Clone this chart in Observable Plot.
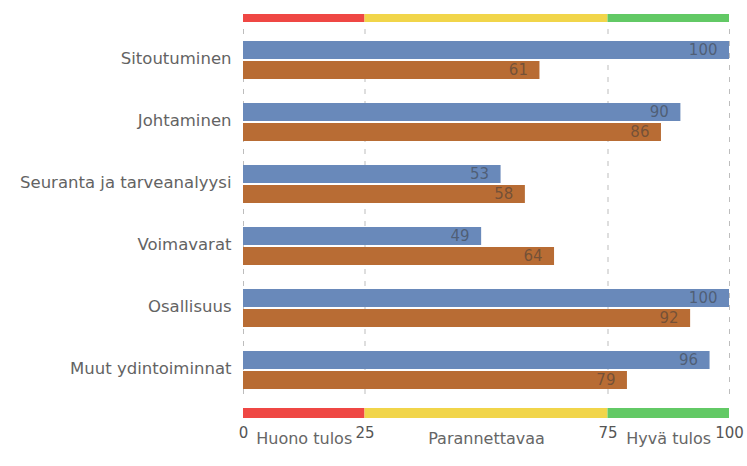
<!DOCTYPE html>
<html>
<head>
<meta charset="utf-8">
<script src="https://cdn.jsdelivr.net/npm/d3@7"></script>
<script src="https://cdn.jsdelivr.net/npm/@observablehq/plot@0.6"></script>
<style>
  html, body { margin: 0; padding: 0; background: #fff; }
  #chart { width: 747px; display: flex; flex-direction: column; }
  #chart svg { display: block; }
</style>
</head>
<body>
<div id="chart"></div>
<script>
// Data
const categories = ["Sitoutuminen", "Johtaminen", "Seuranta ja tarveanalyysi", "Voimavarat", "Osallisuus", "Muut ydintoiminnat"];
const seriesA = [100, 90, 53, 49, 100, 96];   // blue
const seriesB = [61, 86, 58, 64, 92, 79];     // orange
const zoneStarts = [0, 25, 75];
const zoneEnds = [25, 75, 100];
const zoneLabels = ["Huono tulos", "Parannettavaa", "Hyvä tulos"];
const zoneColors = ["#ef4744", "#f1d54a", "#62c965"];
const tickValues = [0, 25, 75, 100];

const blue = "#6989ba";
const orange = "#b86c34";
const font = "DejaVu Sans, sans-serif";

const rowsA = categories.map((c, i) => ({category: c, value: seriesA[i]}));
const rowsB = categories.map((c, i) => ({category: c, value: seriesB[i]}));
const zones = zoneStarts.map((s, i) => ({x1: s, x2: zoneEnds[i], label: zoneLabels[i], color: zoneColors[i]}));

const W = 747, ML = 243, MR = 18;
const xOpts = {domain: [0, 100], range: [ML, W - MR]};

// Top colour band
const topBand = Plot.plot({
  width: W, height: 22, marginTop: 14, marginBottom: 0, marginLeft: ML, marginRight: MR,
  x: {...xOpts, axis: null},
  y: {axis: null},
  marks: [
    Plot.barX(zones, {x1: "x1", x2: "x2", fill: "color"})
  ]
});

// Main bars
const mainChart = Plot.plot({
  width: W, height: 386, marginTop: 7, marginBottom: 7, marginLeft: ML, marginRight: MR,
  style: {fontFamily: font, background: "transparent"},
  x: {...xOpts, axis: null},
  y: {domain: categories, paddingInner: 0.39, paddingOuter: 0.195, label: null},
  marks: [
    Plot.ruleX(tickValues, {stroke: "#bdbdbd", strokeDasharray: "5,7", strokeWidth: 1}),
    Plot.barX(rowsA, {x: "value", y: "category", fill: blue, insetBottom: 20}),
    Plot.barX(rowsB, {x: "value", y: "category", fill: orange, insetTop: 20}),
    Plot.text(rowsA, {x: "value", y: "category", text: d => String(d.value), dy: -10, dx: -12, textAnchor: "end", fill: "#3a3a3a", fillOpacity: 0.55, fontSize: 15, letterSpacing: "0.5px"}),
    Plot.text(rowsB, {x: "value", y: "category", text: d => String(d.value), dy: 10, dx: -12, textAnchor: "end", fill: "#3a3a3a", fillOpacity: 0.55, fontSize: 15, letterSpacing: "0.5px"}),
    Plot.axisY({tickSize: 0, tickPadding: 12, fontSize: 16.5, fill: "#636363", label: null, letterSpacing: "0.5px", dy: -1.5})
  ]
});

// Bottom colour band + axis + zone labels
const bottomBand = Plot.plot({
  width: W, height: 58, marginTop: 0, marginBottom: 48, marginLeft: ML, marginRight: MR,
  style: {fontFamily: font, background: "transparent", overflow: "visible"},
  x: {...xOpts},
  y: {axis: null},
  marks: [
    Plot.barX(zones, {x1: "x1", x2: "x2", fill: "color"}),
    Plot.axisX({ticks: tickValues, tickSize: 0, tickPadding: 9, fontSize: 15, fill: "#555", label: null, letterSpacing: "0.5px", tickFormat: d => String(d)}),
    Plot.text(zones, {x: d => (d.x1 + d.x2) / 2, text: "label", frameAnchor: "bottom", lineAnchor: "bottom", dy: 25, fontSize: 16, fill: "#666", letterSpacing: "0.4px"})
  ]
});

document.getElementById("chart").append(topBand, mainChart, bottomBand);
</script>
</body>
</html>
